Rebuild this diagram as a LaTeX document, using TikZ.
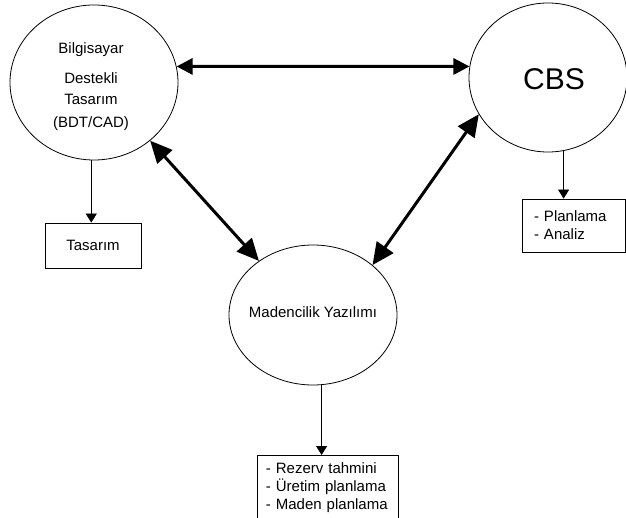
\documentclass[tikz,border=0pt]{standalone}
\usepackage{fontspec}
\setmainfont{Liberation Sans}
\usetikzlibrary{arrows.meta,shapes.geometric}
\begin{document}
\begin{tikzpicture}[x=1pt,y=-1pt,
  ell/.style={draw, ellipse, inner sep=0pt, line width=0.8pt},
  box/.style={draw, rectangle, line width=0.8pt},
  smallarrow/.style={line width=0.8pt, -{Triangle[length=9pt,width=11pt]}},
  bigarrow/.style={line width=3pt, {Triangle[length=16pt,width=16pt]}-{Triangle[length=16pt,width=16pt]}},
  bigarrowd/.style={line width=3pt, {Triangle[length=22pt,width=20pt]}-{Triangle[length=22pt,width=20pt]}},
  font=\fontsize{15}{18}\selectfont]
\clip (0,0) rectangle (626,518);
\fill[white] (0,0) rectangle (626,518);

\node[ell, minimum width=168pt, minimum height=155pt,
  label={[name=bdtt, align=center, xshift=-3pt, yshift=-4pt]center:Bilgisayar\\[12pt]Destekli\\[3pt]Tasarım\\[5pt](BDT/CAD)}] (bdt) at (94,82.5) {};
\node[ell, minimum width=158pt, minimum height=149pt,
  label={[name=cbst, xshift=6pt, yshift=-1.5pt, font=\fontsize{30}{36}\selectfont]center:CBS}] (cbs) at (548,77.5) {};
\node[ell, minimum width=168pt, minimum height=140pt,
  label={[name=madt, yshift=3pt]center:Madencilik Yazılımı}] (mad) at (313,315) {};

\node[box, minimum width=96pt, minimum height=45pt, inner sep=0pt] (tas) at (93,245.5) {Tasarım};
\node[box, minimum width=103pt, minimum height=53pt, inner sep=0pt, text width=79pt, align=left] (plan) at (573.5,225.5) {- Planlama\\- Analiz};
\node[box, anchor=north west, inner xsep=8.5pt, inner ysep=7pt, text width=124pt, align=left, text depth=60pt] (rez) at (257,455) {- Rezerv tahmini\\- Üretim planlama\\- Maden planlama};

\draw[bigarrow] (bdt.11) -- (cbs.172);
\draw[bigarrowd] (bdt.-46) -- (mad.135);
\draw[bigarrowd] (cbs.-152) -- (mad.40);

\draw[smallarrow] (bdt.-92) -- (bdt.-92 |- tas.north);
\draw[smallarrow] (cbs.-78) -- (cbs.-78 |- plan.north);
\draw[smallarrow] (mad.-83) -- (mad.-83 |- rez.north);
\end{tikzpicture}
\end{document}
